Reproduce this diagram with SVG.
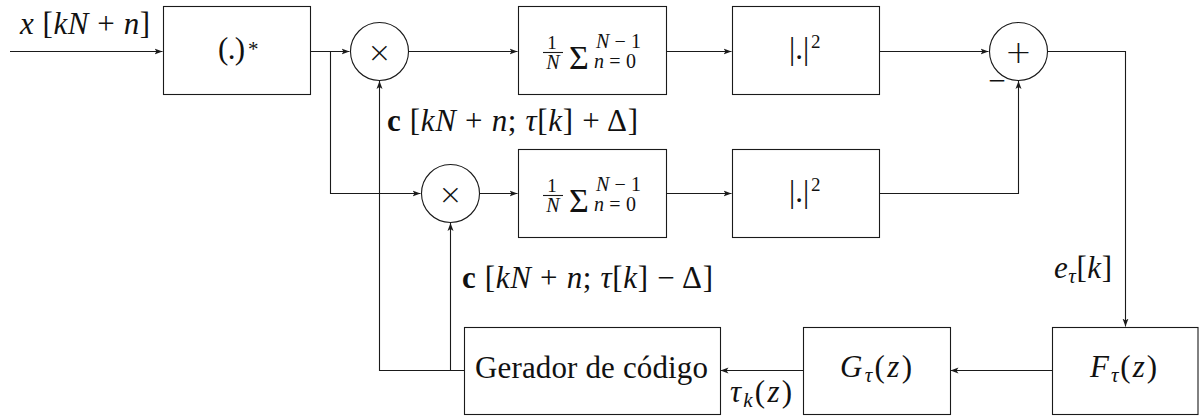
<svg xmlns="http://www.w3.org/2000/svg" width="1199" height="416" viewBox="0 0 1199 416">
<defs>
<marker id="arr" markerUnits="userSpaceOnUse" markerWidth="9" markerHeight="7" refX="8" refY="3.5" orient="auto">
<path d="M0,0.5 L8,3.5 L0,6.5 L2,3.5 z" fill="#1a1a1a"/>
</marker>
<style>
.b{fill:#fff;stroke:#1a1a1a;stroke-width:1.1}
.c{stroke:#1a1a1a;stroke-width:1.1;fill:none}
.t{font-family:"Liberation Serif","Times New Roman",serif;font-size:31px;fill:#111}
.i{font-style:italic}
.s{font-family:"Liberation Serif","Times New Roman",serif;fill:#111}
.op{font-family:"DejaVu Sans",sans-serif;fill:#111;font-weight:200}
</style>
</defs>
<rect width="1199" height="416" fill="#fff"/>

<g id="connectors">
<path class="c" d="M10,51.5 H162.5" marker-end="url(#arr)"/>
<path class="c" d="M310.5,51.5 H349.5" marker-end="url(#arr)"/>
<path class="c" d="M330.5,51.5 V193.5 H420.5" marker-end="url(#arr)"/>
<path class="c" d="M408.5,51.5 H517.5" marker-end="url(#arr)"/>
<path class="c" d="M666.5,51.5 H731.5" marker-end="url(#arr)"/>
<path class="c" d="M879.5,51.5 H988.5" marker-end="url(#arr)"/>
<path class="c" d="M1047.5,51.5 H1125.5 V326.5" marker-end="url(#arr)"/>
<path class="c" d="M479.5,193.5 H517.5" marker-end="url(#arr)"/>
<path class="c" d="M666.5,193.5 H731.5" marker-end="url(#arr)"/>
<path class="c" d="M879.5,193.5 H1018.5 V81" marker-end="url(#arr)"/>
<path class="c" d="M1052.5,370.5 H950.5" marker-end="url(#arr)"/>
<path class="c" d="M803.5,370.5 H720.5" marker-end="url(#arr)"/>
<path class="c" d="M464.5,370.5 H379.5 V81" marker-end="url(#arr)"/>
<path class="c" d="M450.5,370.5 V223" marker-end="url(#arr)"/>
</g>

<g id="input-label">
<text class="t" x="20" y="34" textLength="130"><tspan class="i">x</tspan> [<tspan class="i">kN</tspan> + <tspan class="i">n</tspan>]</text>
</g>

<g id="conj">
<rect class="b" x="163.5" y="6.5" width="147" height="88"/>
<text class="t" x="218" y="59" textLength="27">(.)</text>
<text class="s" x="248" y="56" font-size="21">*</text>
</g>

<g id="mult1">
<circle class="b" cx="379.5" cy="51.5" r="29"/>
<text class="op" x="379.5" y="61.5" font-size="29" text-anchor="middle">×</text>
</g>

<g id="mult2">
<circle class="b" cx="450.5" cy="193.5" r="29"/>
<text class="op" x="450.5" y="203.5" font-size="29" text-anchor="middle">×</text>
</g>

<g id="sum1">
<rect class="b" x="518.5" y="6.5" width="148" height="88"/>
<text class="s" x="552" y="49" font-size="19" text-anchor="middle">1</text>
<line class="c" x1="543" y1="52.5" x2="563" y2="52.5"/>
<text class="s i" x="553" y="69" font-size="20" text-anchor="middle">N</text>
<text class="s" x="569" y="69" font-size="34">Σ</text>
<text class="s" x="596" y="48" font-size="20" textLength="45"><tspan class="i">N</tspan>−1</text>
<text class="s" x="594" y="68" font-size="20" textLength="42"><tspan class="i">n</tspan>=0</text>
</g>

<g id="sum2">
<rect class="b" x="518.5" y="149.5" width="148" height="88"/>
<text class="s" x="552" y="192" font-size="19" text-anchor="middle">1</text>
<line class="c" x1="543" y1="195.5" x2="563" y2="195.5"/>
<text class="s i" x="553" y="212" font-size="20" text-anchor="middle">N</text>
<text class="s" x="569" y="212" font-size="34">Σ</text>
<text class="s" x="596" y="191" font-size="20" textLength="45"><tspan class="i">N</tspan>−1</text>
<text class="s" x="594" y="211" font-size="20" textLength="42"><tspan class="i">n</tspan>=0</text>
</g>

<g id="abs1">
<rect class="b" x="732.5" y="6.5" width="147" height="88"/>
<text class="t" x="789" y="59" font-size="32">|.|</text>
<text class="s" x="811" y="48" font-size="19">2</text>
</g>

<g id="abs2">
<rect class="b" x="732.5" y="149.5" width="147" height="88"/>
<text class="t" x="789" y="202" font-size="32">|.|</text>
<text class="s" x="811" y="191" font-size="19">2</text>
</g>

<g id="adder">
<circle class="b" cx="1018.5" cy="51.5" r="29"/>
<text class="op" x="1018.5" y="62.5" font-size="32" text-anchor="middle">+</text>
<text class="t" x="997" y="91" font-size="32" text-anchor="middle">−</text>
</g>

<g id="label-cplus">
<text class="t" x="387" y="131" textLength="251"><tspan font-weight="bold">c</tspan> [<tspan class="i">kN</tspan> + <tspan class="i">n</tspan>; <tspan class="i">τ</tspan>[<tspan class="i">k</tspan>] + Δ]</text>
</g>

<g id="label-cminus">
<text class="t" x="462" y="288" textLength="251"><tspan font-weight="bold">c</tspan> [<tspan class="i">kN</tspan> + <tspan class="i">n</tspan>; <tspan class="i">τ</tspan>[<tspan class="i">k</tspan>] − Δ]</text>
</g>

<g id="label-e">
<text class="t" x="1054" y="278" textLength="58"><tspan class="i">e</tspan><tspan class="i" font-size="21" dy="5">τ</tspan><tspan dy="-5">[</tspan><tspan class="i">k</tspan>]</text>
</g>

<g id="F">
<rect class="b" x="1052.5" y="327.5" width="145.5" height="87"/>
<text class="t" x="1090" y="377" textLength="67"><tspan class="i">F</tspan><tspan class="i" font-size="21" dy="5">τ</tspan><tspan dy="-5">(</tspan><tspan class="i">z</tspan>)</text>
</g>

<g id="G">
<rect class="b" x="803.5" y="327.5" width="147" height="87"/>
<text class="t" x="840" y="377" textLength="72"><tspan class="i">G</tspan><tspan class="i" font-size="21" dy="5">τ</tspan><tspan dy="-5">(</tspan><tspan class="i">z</tspan>)</text>
</g>

<g id="gerador">
<rect class="b" x="464.5" y="327.5" width="256" height="87"/>
<text class="t" x="475" y="378" textLength="233">Gerador de código</text>
</g>

<g id="label-tau">
<text class="t" x="730" y="402" textLength="62"><tspan class="i">τ</tspan><tspan class="i" font-size="21" dy="5">k</tspan><tspan dy="-5">(</tspan><tspan class="i">z</tspan>)</text>
</g>
</svg>
